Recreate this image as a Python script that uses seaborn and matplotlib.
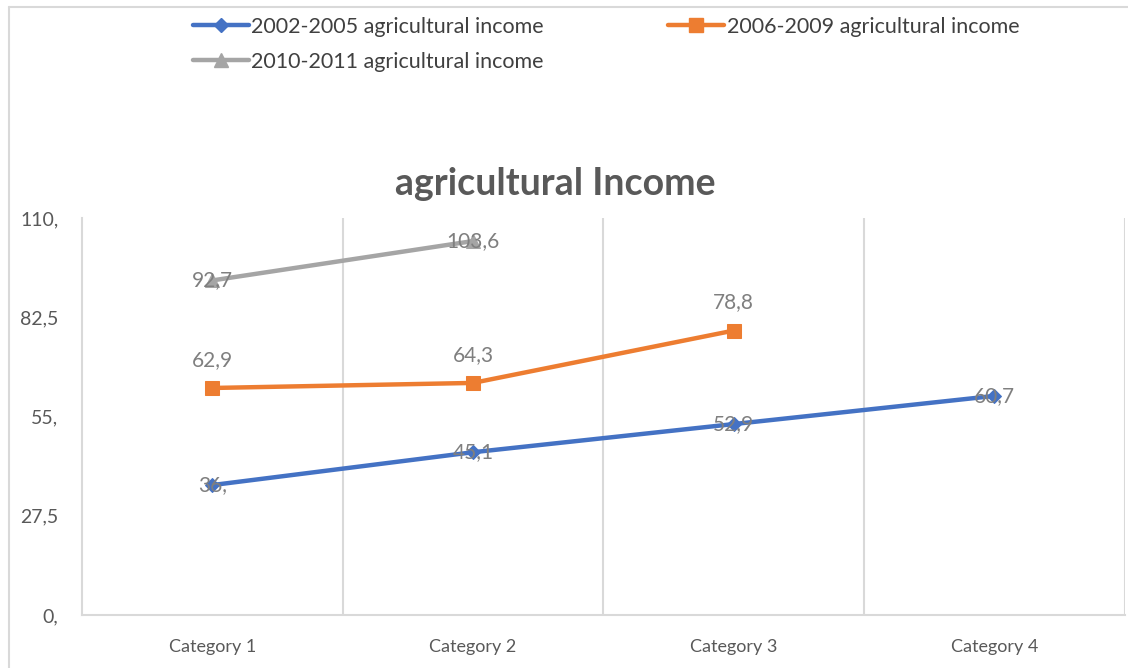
import numpy as np
import pandas as pd
import matplotlib
matplotlib.use("Agg")
import matplotlib.pyplot as plt
from matplotlib.lines import Line2D
import seaborn as sns

categories = ["Category 1", "Category 2", "Category 3", "Category 4"]
series_names = ["2002-2005 agricultural income", "2006-2009 agricultural income", "2010-2011 agricultural income"]
income_0205 = [36.0, 45.1, 52.9, 60.7]
income_0609 = [62.9, 64.3, 78.8]
income_1011 = [92.7, 103.6]
label_0205 = ["36,", "45,1", "52,9", "60,7"]
label_0609 = ["62,9", "64,3", "78,8"]
label_1011 = ["92,7", "103,6"]
ytick_vals = [0, 27.5, 55, 82.5, 110]
ytick_labels = ["0,", "27,5", "55,", "82,5", "110,"]

colors = ["#4472C4", "#ED7D31", "#A5A5A5"]
markers = ["D", "s", "^"]
msizes = [7, 10, 10]

rows = []
for name, vals in zip(series_names, [income_0205, income_0609, income_1011]):
    for i, v in enumerate(vals):
        rows.append({"cat": i, "value": v, "series": name})
df = pd.DataFrame(rows)

sns.set_style("white")
plt.rcParams['font.family'] = ['Lato', 'DejaVu Sans']

fig = plt.figure(figsize=(11.28, 6.68), dpi=100)
ax = fig.add_axes([0.0727, 0.0793, 0.9243, 0.5944])

handles = []
for name, c, m, ms in zip(series_names, colors, markers, msizes):
    d = df[df["series"] == name]
    sns.lineplot(data=d, x="cat", y="value", ax=ax, color=c, lw=3.2,
                 marker=m, markersize=ms, markeredgecolor=c, legend=False)
    handles.append(Line2D([], [], color=c, lw=3.2, marker=m, markersize=ms, markeredgecolor=c))

lab_color = "#7F7F7F"
for i, (v, t) in enumerate(zip(income_0205, label_0205)):
    ax.text(i, v, t, ha="center", va="center", fontsize=15, color=lab_color)
for i, (v, t) in enumerate(zip(income_0609, label_0609)):
    ax.annotate(t, (i, v), xytext=(0, 13), textcoords="offset points",
                ha="center", va="bottom", fontsize=15, color=lab_color)
for i, (v, t) in enumerate(zip(income_1011, label_1011)):
    ax.text(i, v, t, ha="center", va="center", fontsize=15, color=lab_color)

ax.set_xlim(-0.5, 3.5)
ax.set_ylim(0, 110)
ax.set_xticks(range(4))
ax.set_xticklabels(categories, fontsize=13, color="#595959")
ax.set_yticks(ytick_vals)
ax.set_yticklabels(ytick_labels, fontsize=14, color="#595959")
ax.tick_params(axis="both", length=0)
ax.tick_params(axis="x", pad=17)
ax.tick_params(axis="y", pad=17)
for b in [0.5, 1.5, 2.5, 3.5]:
    ax.axvline(b, color="#D9D9D9", lw=1.5, zorder=0)
for s in ["top", "right"]:
    ax.spines[s].set_visible(False)
for s in ["left", "bottom"]:
    ax.spines[s].set_color("#D9D9D9")
    ax.spines[s].set_linewidth(1.5)
ax.set_xlabel("")
ax.set_ylabel("")

fig.text(0.492, 0.725, "agricultural Income", ha="center", va="center",
         fontsize=27, fontweight="bold", color="#595959")

order = [0, 2, 1]
fig.legend([handles[k] for k in order], [series_names[k] for k in order],
           loc="upper left", bbox_to_anchor=(0.171, 0.975), ncol=2, frameon=False,
           fontsize=15.5, handlelength=2.6, columnspacing=5.8, labelspacing=0.7,
           handletextpad=0.1, borderpad=0, borderaxespad=0, labelcolor="#404040")

fig.add_artist(Line2D([0.008, 0.008], [0, 0.99], color="#D9D9D9", lw=1.5, transform=fig.transFigure))
fig.add_artist(Line2D([0.008, 1.0], [0.99, 0.99], color="#D9D9D9", lw=1.5, transform=fig.transFigure))

fig.savefig("out.png", dpi=100)
